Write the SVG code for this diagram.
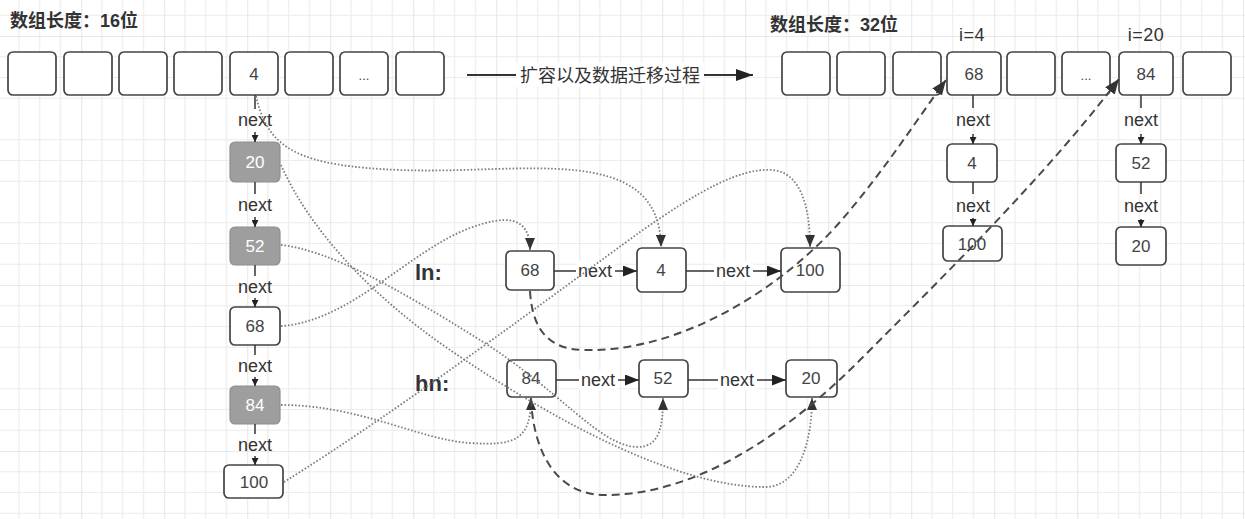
<svg xmlns="http://www.w3.org/2000/svg" width="1245" height="519" viewBox="0 0 1245 519">
<style>
text { font-family: "Liberation Sans", "Noto Sans CJK SC", sans-serif; fill: #333; }
.box { fill: #fff; stroke: #444; stroke-width: 1.7; }
.gbox { fill: #9e9e9e; stroke: #8e8e8e; stroke-width: 1.2; }
.num { font-size: 17px; text-anchor: middle; fill: #444; }
.wnum { font-size: 17px; text-anchor: middle; fill: #fff; }
.lbl { font-size: 18px; text-anchor: middle; fill: #333; }
.title { font-size: 18px; font-weight: bold; }
.conn { stroke: #333; stroke-width: 1.5; fill: none; }
.dot { stroke: #7e7e7e; stroke-width: 1.8; fill: none; stroke-dasharray: 1.6 1.9; }
.dash { stroke: #4a4a4a; stroke-width: 2; fill: none; stroke-dasharray: 8 5; }
.bg { fill: #fff; }
</style>
<defs>
<pattern id="grid" x="-1.75" y="36" width="83" height="83" patternUnits="userSpaceOnUse">
<path d="M20.75 0V83M41.5 0V83M62.25 0V83M0 20.75H83M0 41.5H83M0 62.25H83" stroke="#ececec" stroke-width="1.2" fill="none"/>
<path d="M0 0V83M0 0H83" stroke="#e2e2e2" stroke-width="1.7" fill="none"/>
</pattern>
<marker id="aS" markerUnits="userSpaceOnUse" markerWidth="7" markerHeight="7" refX="7" refY="3.5" orient="auto"><path d="M0,0 L7,3.5 L0,7 z" fill="#222"/></marker>
<marker id="aM" markerUnits="userSpaceOnUse" markerWidth="14" markerHeight="11" refX="14" refY="5.5" orient="auto"><path d="M0,0 L14,5.5 L0,11 z" fill="#222"/></marker>
<marker id="aB" markerUnits="userSpaceOnUse" markerWidth="17" markerHeight="12" refX="17" refY="6" orient="auto"><path d="M0,0 L17,6 L0,12 z" fill="#222"/></marker>
<marker id="aD" markerUnits="userSpaceOnUse" markerWidth="12" markerHeight="10" refX="12" refY="5" orient="auto"><path d="M0,0 L12,5 L0,10 z" fill="#333"/></marker>
<marker id="aK" markerUnits="userSpaceOnUse" markerWidth="15" markerHeight="12" refX="15" refY="6" orient="auto"><path d="M0,0 L15,6 L0,12 z" fill="#333"/></marker>
</defs>
<rect width="1245" height="519" fill="#fff"/>
<rect width="1245" height="519" fill="url(#grid)"/>

<text class="title" x="10" y="27">数组长度：16位</text>
<text class="title" x="770" y="31">数组长度：32位</text>
<text class="lbl" x="972" y="41" style="letter-spacing:0.5px">i=4</text>
<text class="lbl" x="1146" y="41" style="letter-spacing:0.5px">i=20</text>
<text x="415" y="280" style="font-size:22px;font-weight:bold">ln:</text>
<text x="415" y="391" style="font-size:22px;font-weight:bold">hn:</text>

<g id="old-array">
<g id="o0"><rect class="box" x="8" y="52" width="48" height="43" rx="5"/></g>
<g id="o1"><rect class="box" x="64" y="52" width="48" height="43" rx="5"/></g>
<g id="o2"><rect class="box" x="119" y="52" width="48" height="43" rx="5"/></g>
<g id="o3"><rect class="box" x="174" y="52" width="48" height="43" rx="5"/></g>
<g id="o4"><rect class="box" x="230" y="52" width="48" height="43" rx="5"/><text class="num" x="254" y="80">4</text></g>
<g id="o5"><rect class="box" x="285" y="52" width="48" height="43" rx="5"/></g>
<g id="o6"><rect class="box" x="340" y="52" width="48" height="43" rx="5"/><text class="num" x="364" y="80" style="font-size:13px">...</text></g>
<g id="o7"><rect class="box" x="396" y="52" width="48" height="43" rx="5"/></g>
</g>

<g id="new-array">
<g id="n0"><rect class="box" x="782" y="52" width="48" height="43" rx="5"/></g>
<g id="n1"><rect class="box" x="837" y="52" width="48" height="43" rx="5"/></g>
<g id="n2"><rect class="box" x="893" y="52" width="48" height="43" rx="5"/></g>
<g id="n3"><rect class="box" x="947" y="52" width="54" height="43" rx="5"/><text class="num" x="974" y="80">68</text></g>
<g id="n4"><rect class="box" x="1007" y="52" width="48" height="43" rx="5"/></g>
<g id="n5"><rect class="box" x="1062" y="52" width="48" height="43" rx="5"/><text class="num" x="1086" y="80" style="font-size:13px">...</text></g>
<g id="n6"><rect class="box" x="1119" y="52" width="54" height="43" rx="5"/><text class="num" x="1146" y="80">84</text></g>
<g id="n7"><rect class="box" x="1183" y="52" width="48" height="43" rx="5"/></g>
</g>

<g id="old-chain">
<g id="c20"><rect class="gbox" x="230" y="142" width="50" height="40" rx="5"/><text class="wnum" x="255" y="168">20</text></g>
<g id="c52"><rect class="gbox" x="230" y="227" width="50" height="38" rx="5"/><text class="wnum" x="255" y="252">52</text></g>
<g id="c68"><rect class="box" x="230" y="307" width="50" height="38" rx="5"/><text class="num" x="255" y="332">68</text></g>
<g id="c84"><rect class="gbox" x="230" y="386" width="50" height="38" rx="5"/><text class="wnum" x="255" y="411">84</text></g>
<g id="c100"><rect class="box" x="224" y="465" width="59" height="33" rx="5"/><text class="num" x="254" y="488">100</text></g>
</g>

<g id="ln-list">
<g id="l68"><rect class="box" x="506" y="251" width="48" height="39" rx="5"/><text class="num" x="530" y="276">68</text></g>
<g id="l4"><rect class="box" x="637" y="248" width="49" height="44" rx="5"/><text class="num" x="661" y="276">4</text></g>
<g id="l100"><rect class="box" x="781" y="248" width="59" height="44" rx="5"/><text class="num" x="810" y="276">100</text></g>
</g>

<g id="hn-list">
<g id="h84"><rect class="box" x="507" y="360" width="49" height="37" rx="5"/><text class="num" x="531" y="384">84</text></g>
<g id="h52"><rect class="box" x="639" y="360" width="49" height="37" rx="5"/><text class="num" x="663" y="384">52</text></g>
<g id="h20"><rect class="box" x="786" y="360" width="51" height="37" rx="5"/><text class="num" x="811" y="384">20</text></g>
</g>

<g id="new-chains">
<g id="r4"><rect class="box" x="947" y="144" width="50" height="38" rx="5"/><text class="num" x="972" y="169">4</text></g>
<g id="r100"><rect class="box" x="943" y="226" width="59" height="35" rx="5"/><text class="num" x="972" y="250">100</text></g>
<g id="r52"><rect class="box" x="1116" y="144" width="50" height="38" rx="5"/><text class="num" x="1141" y="169">52</text></g>
<g id="r20"><rect class="box" x="1116" y="227" width="50" height="38" rx="5"/><text class="num" x="1141" y="252">20</text></g>
</g>

<g id="connectors">
<line class="conn" x1="467" y1="75" x2="753" y2="75" style="stroke-width:2" marker-end="url(#aB)"/>
<rect class="bg" x="516" y="63" width="188" height="24"/>
<text x="610" y="82" style="font-size:18px;text-anchor:middle">扩容以及数据迁移过程</text>

<line class="conn" x1="255" y1="95" x2="255" y2="109"/>
<line class="conn" x1="255" y1="132" x2="255" y2="142" marker-end="url(#aS)"/>
<text class="lbl" x="255" y="126">next</text>
<line class="conn" x1="255" y1="182" x2="255" y2="194"/>
<line class="conn" x1="255" y1="217" x2="255" y2="227" marker-end="url(#aS)"/>
<text class="lbl" x="255" y="211">next</text>
<line class="conn" x1="255" y1="265" x2="255" y2="276"/>
<line class="conn" x1="255" y1="298" x2="255" y2="307" marker-end="url(#aS)"/>
<text class="lbl" x="255" y="293">next</text>
<line class="conn" x1="255" y1="345" x2="255" y2="355"/>
<line class="conn" x1="255" y1="377" x2="255" y2="386" marker-end="url(#aS)"/>
<text class="lbl" x="255" y="372">next</text>
<line class="conn" x1="255" y1="424" x2="255" y2="434"/>
<line class="conn" x1="255" y1="456" x2="255" y2="465" marker-end="url(#aS)"/>
<text class="lbl" x="255" y="451">next</text>

<line class="conn" x1="973" y1="95" x2="973" y2="108"/>
<line class="conn" x1="973" y1="134" x2="973" y2="144" marker-end="url(#aS)"/>
<text class="lbl" x="973" y="126">next</text>
<line class="conn" x1="973" y1="182" x2="973" y2="194"/>
<line class="conn" x1="973" y1="218" x2="973" y2="226" marker-end="url(#aS)"/>
<text class="lbl" x="973" y="212">next</text>
<line class="conn" x1="1141" y1="95" x2="1141" y2="108"/>
<line class="conn" x1="1141" y1="134" x2="1141" y2="144" marker-end="url(#aS)"/>
<text class="lbl" x="1141" y="126">next</text>
<line class="conn" x1="1141" y1="182" x2="1141" y2="194"/>
<line class="conn" x1="1141" y1="219" x2="1141" y2="227" marker-end="url(#aS)"/>
<text class="lbl" x="1141" y="212">next</text>

<line class="conn" x1="554" y1="271" x2="637" y2="271" marker-end="url(#aM)"/>
<rect class="bg" x="576" y="261" width="39" height="20"/>
<text class="lbl" x="595" y="277">next</text>
<line class="conn" x1="686" y1="271" x2="781" y2="271" marker-end="url(#aM)"/>
<rect class="bg" x="714" y="261" width="39" height="20"/>
<text class="lbl" x="733" y="277">next</text>
<line class="conn" x1="556" y1="380" x2="639" y2="380" marker-end="url(#aM)"/>
<rect class="bg" x="579" y="370" width="39" height="20"/>
<text class="lbl" x="598" y="386">next</text>
<line class="conn" x1="688" y1="380" x2="786" y2="380" marker-end="url(#aM)"/>
<rect class="bg" x="718" y="370" width="39" height="20"/>
<text class="lbl" x="737" y="386">next</text>

<path class="dot" d="M256,96 C268,150 300,166 400,170 C520,175 660,140 661,247" marker-end="url(#aD)"/>
<path class="dot" d="M281,326 C350,322 410,250 470,228 C505,215 530,215 530,250" marker-end="url(#aD)"/>
<path class="dot" d="M284,482 C400,410 560,290 640,232 C700,190 740,168 772,170 C800,172 810,205 810,247" marker-end="url(#aD)"/>
<path class="dot" d="M281,405 C360,405 420,440 470,443 C515,446 531,440 531,398" marker-end="url(#aD)"/>
<path class="dot" d="M281,245 C330,250 400,290 480,340 C560,390 600,447 638,447 C660,447 663,425 663,398" marker-end="url(#aD)"/>
<path class="dot" d="M281,165 C310,230 370,295 450,350 C560,425 680,487 765,487 C800,487 812,440 812,398" marker-end="url(#aD)"/>

<path class="dash" d="M530,291 C532,325 545,350 585,350 C680,352 780,290 840,222 C885,170 920,115 946,80" marker-end="url(#aK)"/>
<path class="dash" d="M531,398 C533,450 555,495 605,495 C700,495 790,430 860,360 C960,260 1050,170 1119,79" marker-end="url(#aK)"/>
</g>
</svg>
